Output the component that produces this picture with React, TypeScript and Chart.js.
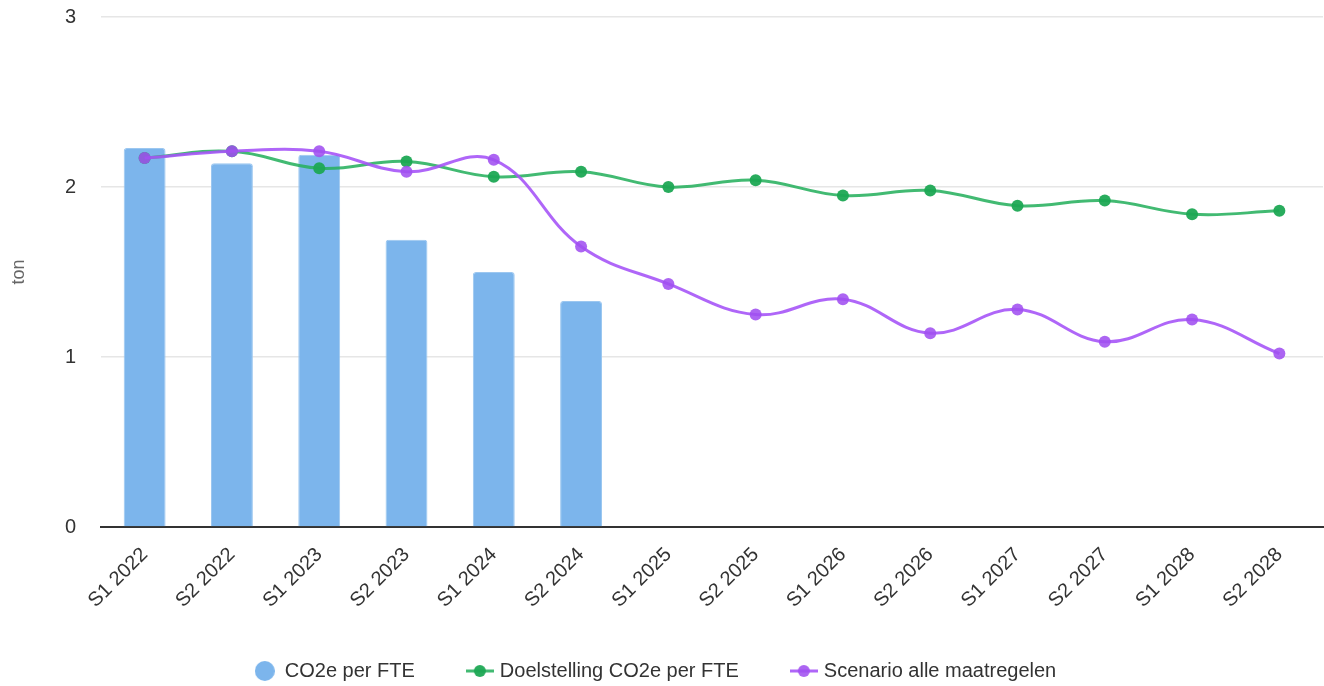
import React, { useEffect, useRef } from 'react';
import { Chart, registerables } from 'chart.js';

Chart.register(...registerables);

const categories = [
  'S1 2022', 'S2 2022', 'S1 2023', 'S2 2023', 'S1 2024', 'S2 2024', 'S1 2025',
  'S2 2025', 'S1 2026', 'S2 2026', 'S1 2027', 'S2 2027', 'S1 2028', 'S2 2028',
];
const co2PerFte = [2.23, 2.14, 2.19, 1.69, 1.5, 1.33, null, null, null, null, null, null, null, null];
const doelstelling = [2.17, 2.21, 2.11, 2.15, 2.06, 2.09, 2.0, 2.04, 1.95, 1.98, 1.89, 1.92, 1.84, 1.86];
const scenario = [2.17, 2.21, 2.21, 2.09, 2.16, 1.65, 1.43, 1.25, 1.34, 1.14, 1.28, 1.09, 1.22, 1.02];
const seriesNames = ['CO2e per FTE', 'Doelstelling CO2e per FTE', 'Scenario alle maatregelen'];
const yMin = 0;
const yMax = 3;
const yStep = 1;
const yTitle = 'ton';

const FONT = '"Liberation Sans", Arial, sans-serif';
const BAR = '#7cb5ec';
const GREEN_LINE = 'rgba(40,176,94,0.88)';
const GREEN_PT = 'rgba(30,168,84,0.95)';
const PURPLE_LINE = 'rgba(166,85,247,0.9)';
const PURPLE_PT = 'rgba(160,80,240,0.88)';

function circleIcon(color: string) {
  const c = document.createElement('canvas');
  c.width = 20;
  c.height = 20;
  const ctx = c.getContext('2d')!;
  ctx.fillStyle = color;
  ctx.beginPath();
  ctx.arc(10, 10, 10, 0, Math.PI * 2);
  ctx.fill();
  return c;
}

function lineIcon(lineColor: string, ptColor: string) {
  const c = document.createElement('canvas');
  c.width = 28;
  c.height = 14;
  const ctx = c.getContext('2d')!;
  ctx.strokeStyle = lineColor;
  ctx.lineWidth = 3;
  ctx.beginPath();
  ctx.moveTo(0, 7);
  ctx.lineTo(28, 7);
  ctx.stroke();
  ctx.fillStyle = ptColor;
  ctx.beginPath();
  ctx.arc(14, 7, 6, 0, Math.PI * 2);
  ctx.fill();
  return c;
}

const legendShift = {
  id: 'legendShift',
  afterLayout(chart: any) {
    const lg = chart.legend;
    if (lg && lg.lineWidths && lg.lineWidths.length) {
      lg.lineWidths[0] += 12;
    }
  },
};

export default function App() {
  const ref = useRef<HTMLCanvasElement | null>(null);

  useEffect(() => {
    document.body.style.margin = '0';
    const icons = [circleIcon(BAR), lineIcon(GREEN_LINE, GREEN_PT), lineIcon(PURPLE_LINE, PURPLE_PT)];
    const chart = new Chart(ref.current!, {
      type: 'bar',
      plugins: [legendShift],
      data: {
        labels: categories,
        datasets: [
          {
            type: 'bar',
            label: seriesNames[0],
            data: co2PerFte,
            backgroundColor: BAR,
            borderColor: '#9cc7f0',
            borderWidth: 1,
            borderRadius: { topLeft: 3, topRight: 3, bottomLeft: 0, bottomRight: 0 },
            borderSkipped: 'bottom',
            barPercentage: 0.6,
            categoryPercentage: 0.8,
            order: 3,
          } as any,
          {
            type: 'line',
            label: seriesNames[1],
            data: doelstelling,
            borderColor: GREEN_LINE,
            backgroundColor: GREEN_PT,
            pointBackgroundColor: GREEN_PT,
            pointBorderWidth: 0,
            pointRadius: 6,
            borderWidth: 3,
            tension: 0.4,
            fill: false,
            clip: false,
            order: 2,
          } as any,
          {
            type: 'line',
            label: seriesNames[2],
            data: scenario,
            borderColor: PURPLE_LINE,
            backgroundColor: PURPLE_PT,
            pointBackgroundColor: PURPLE_PT,
            pointBorderWidth: 0,
            pointRadius: 6,
            borderWidth: 3,
            tension: 0.4,
            fill: false,
            clip: false,
            order: 1,
          } as any,
        ],
      },
      options: {
        responsive: true,
        maintainAspectRatio: false,
        animation: false,
        layout: { autoPadding: false, padding: { top: 0, right: 1, left: 0, bottom: -5 } },
        plugins: {
          tooltip: { enabled: false },
          legend: {
            position: 'bottom',
            labels: {
              usePointStyle: true,
              padding: 55,
              color: '#333',
              font: { family: FONT, size: 20 },
              sort: (a: any, b: any) => a.datasetIndex - b.datasetIndex,
              generateLabels: (ch: any) =>
                ch.data.datasets.map((ds: any, i: number) => ({
                  text: ds.label,
                  datasetIndex: i,
                  pointStyle: icons[i],
                  fillStyle: 'transparent',
                  strokeStyle: 'transparent',
                  lineWidth: 0,
                  hidden: false,
                  fontColor: '#333',
                })),
            },
          },
        },
        scales: {
          x: {
            grid: { display: false, drawTicks: false },
            border: { display: true, color: '#333', width: 2 },
            ticks: {
              minRotation: 45,
              maxRotation: 45,
              autoSkip: false,
              color: '#333',
              padding: 16,
              font: { family: FONT, size: 20 },
            },
            afterFit: (s: any) => {
              s.height = 79;
              s.paddingLeft = 0;
              s.paddingRight = 0;
            },
          },
          y: {
            min: yMin,
            max: yMax,
            ticks: {
              stepSize: yStep,
              color: '#333',
              padding: 25,
              font: { family: FONT, size: 20 },
            },
            grid: { color: '#e6e6e6', lineWidth: 1.5, drawTicks: false },
            border: { display: false },
            title: {
              display: true,
              text: yTitle,
              color: '#666',
              font: { family: FONT, size: 18 },
              padding: { top: 8, bottom: 0 },
            },
            afterFit: (s: any) => {
              s.width = 101;
              s.paddingTop = 17;
              s.paddingBottom = 0;
            },
          },
        },
      } as any,
    });
    return () => chart.destroy();
  }, []);

  return (
    <div style={{ position: 'relative', width: '1324px', height: '686px' }}>
      <canvas ref={ref} />
    </div>
  );
}
